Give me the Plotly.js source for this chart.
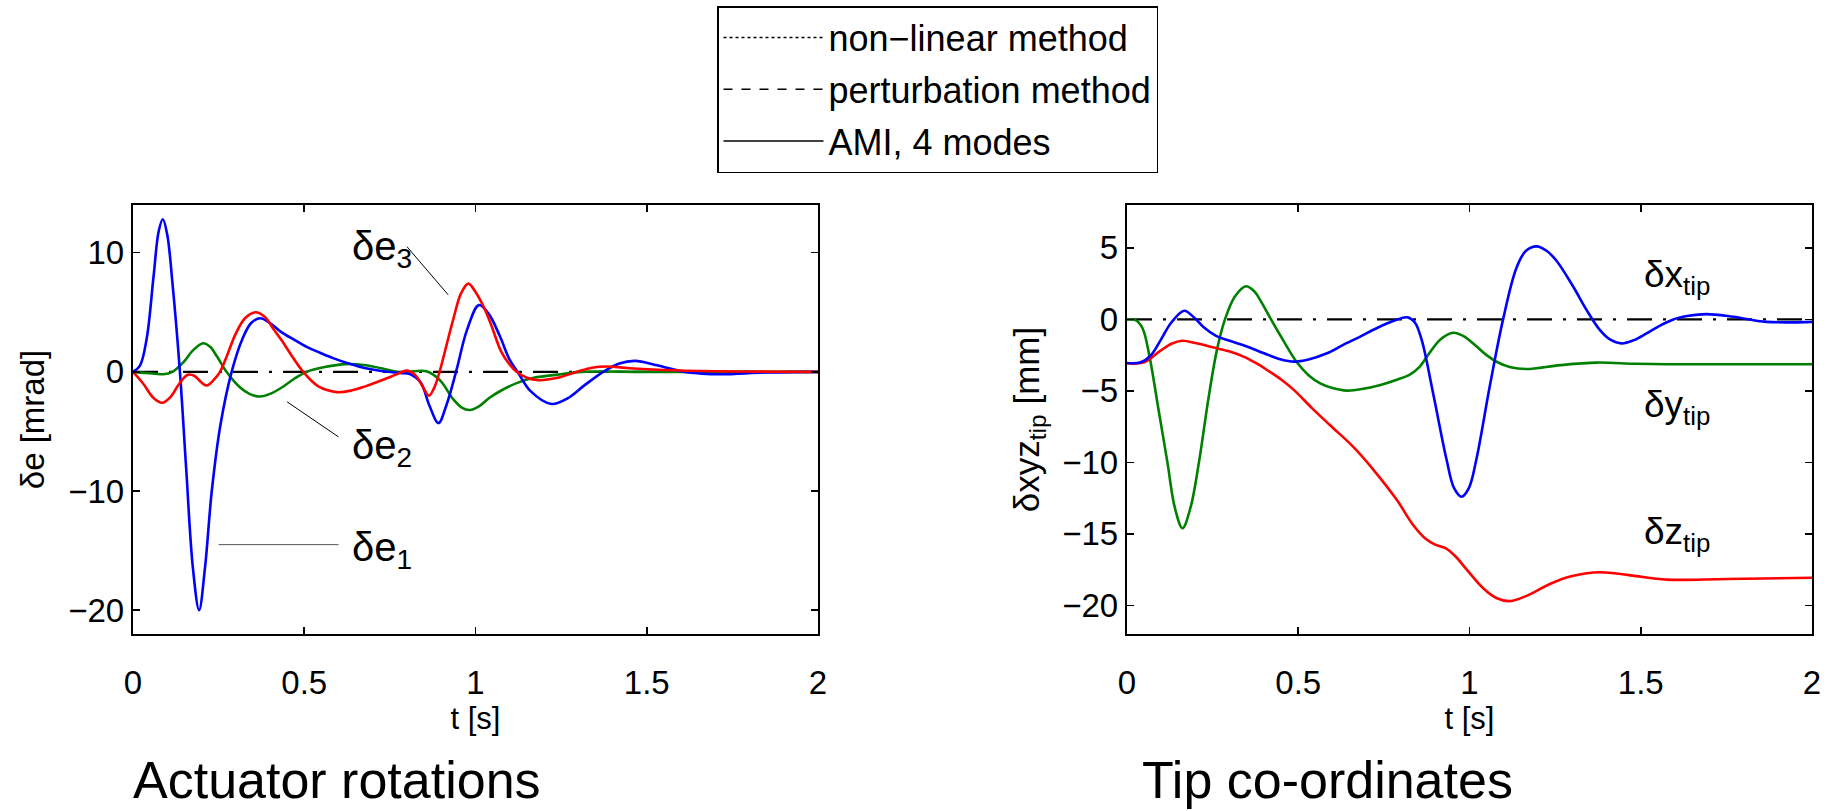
<!DOCTYPE html>
<html>
<head>
<meta charset="utf-8">
<script src="https://cdn.plot.ly/plotly-3.0.1.min.js"></script>
<style>html,body{margin:0;padding:0;background:#fff;}#chart{width:1832px;height:811px;}</style>
</head>
<body>
<div id="chart"></div>
<script>
// ---------- Data: Actuator rotations (left) ----------
const e1T = [0, 0.02, 0.04, 0.06, 0.075, 0.087, 0.1, 0.115, 0.137, 0.155, 0.175, 0.193, 0.21, 0.23, 0.255, 0.288, 0.32, 0.345, 0.371, 0.40, 0.43, 0.47, 0.51, 0.546, 0.584, 0.63, 0.68, 0.73, 0.78, 0.81, 0.84, 0.865, 0.892, 0.915, 0.945, 0.975, 1.01, 1.04, 1.071, 1.10, 1.125, 1.16, 1.222, 1.27, 1.315, 1.373, 1.42, 1.466, 1.53, 1.607, 1.66, 1.72, 1.85, 2.0];
const e1V = [0, 0.5, 2.8, 8.0, 11.8, 12.8, 11.5, 7.5, 0, -8, -16.5, -20, -16.5, -10, -4.5, 0, 2.8, 4.1, 4.5, 4.1, 3.4, 2.7, 2.05, 1.6, 1.15, 0.7, 0.3, 0.05, -0.1, -0.2, -0.9, -2.8, -4.3, -2.8, 0.2, 3.5, 5.6, 4.8, 3.0, 1.0, -0.1, -1.6, -2.7, -2.2, -1.2, 0, 0.7, 0.92, 0.55, 0, -0.15, -0.2, -0.05, 0];

const e2T = [0, 0.04, 0.088, 0.115, 0.147, 0.175, 0.205, 0.225, 0.245, 0.273, 0.312, 0.34, 0.371, 0.40, 0.438, 0.47, 0.507, 0.56, 0.62, 0.68, 0.747, 0.78, 0.82, 0.857, 0.896, 0.935, 0.96, 0.984, 1.01, 1.04, 1.07, 1.12, 1.17, 1.25, 1.31, 1.5, 2.0];
const e2V = [0, -0.1, -0.2, 0, 0.8, 1.8, 2.4, 2.1, 1.3, 0, -1.3, -1.85, -2.07, -1.85, -1.25, -0.6, 0, 0.4, 0.65, 0.55, 0.15, -0.05, 0.05, 0.05, -0.7, -2.3, -3.0, -3.2, -2.9, -2.2, -1.65, -0.95, -0.5, -0.2, 0, 0, 0];

const e3T = [0, 0.03, 0.06, 0.085, 0.11, 0.135, 0.16, 0.18, 0.2, 0.215, 0.235, 0.254, 0.275, 0.3, 0.327, 0.358, 0.385, 0.41, 0.435, 0.46, 0.497, 0.54, 0.595, 0.64, 0.68, 0.73, 0.775, 0.80, 0.825, 0.845, 0.864, 0.88, 0.895, 0.915, 0.935, 0.958, 0.979, 1.0, 1.023, 1.045, 1.075, 1.1, 1.12, 1.15, 1.183, 1.24, 1.296, 1.34, 1.384, 1.45, 1.55, 1.7, 2.0];
const e3V = [0, -1.0, -2.2, -2.6, -2.1, -1.0, -0.25, -0.35, -0.9, -1.15, -0.7, 0, 1.4, 3.2, 4.5, 5.0, 4.6, 3.6, 2.6, 1.5, 0, -1.2, -1.7, -1.55, -1.2, -0.67, -0.15, 0.1, -0.3, -1.2, -2.0, -1.3, 0, 2.2, 4.4, 6.6, 7.4, 6.7, 5.5, 4.0, 1.7, 0.6, 0, -0.5, -0.7, -0.5, 0, 0.35, 0.45, 0.3, 0.15, 0.05, 0];

// ---------- Data: Tip co-ordinates (right) ----------
const xTipT = [0, 0.04, 0.07, 0.097, 0.13, 0.167, 0.195, 0.224, 0.26, 0.3, 0.35, 0.409, 0.45, 0.487, 0.53, 0.584, 0.63, 0.681, 0.73, 0.779, 0.818, 0.84, 0.86, 0.894, 0.933, 0.955, 0.977, 0.998, 1.02, 1.059, 1.098, 1.137, 1.165, 1.196, 1.225, 1.254, 1.303, 1.342, 1.381, 1.41, 1.444, 1.48, 1.517, 1.555, 1.595, 1.64, 1.692, 1.77, 1.867, 2.0];
const xTipV = [-3.05, -3.0, -2.5, -1.5, -0.2, 0.6, 0.15, -0.55, -1.15, -1.5, -1.9, -2.45, -2.8, -2.95, -2.8, -2.37, -1.8, -1.2, -0.6, -0.1, 0.15, -0.2, -1.4, -5.2, -9.8, -11.8, -12.4, -11.8, -9.8, -4.7, 0, 3.6, 4.8, 5.11, 4.8, 4.1, 2.28, 0.65, -0.75, -1.4, -1.68, -1.45, -0.98, -0.45, 0, 0.25, 0.37, 0.18, -0.17, -0.17];

const yTipT = [0, 0.025, 0.045, 0.065, 0.092, 0.118, 0.14, 0.162, 0.185, 0.21, 0.238, 0.262, 0.286, 0.315, 0.347, 0.37, 0.389, 0.418, 0.457, 0.496, 0.53, 0.564, 0.6, 0.642, 0.69, 0.74, 0.79, 0.827, 0.855, 0.876, 0.915, 0.953, 0.985, 1.021, 1.05, 1.079, 1.12, 1.167, 1.265, 1.371, 1.48, 1.576, 2.0];
const yTipV = [0, -0.05, -0.6, -2.5, -6.3, -10, -13.2, -14.6, -13.2, -10, -5.5, -2.2, 0, 1.6, 2.32, 2.0, 1.35, 0.1, -1.5, -3.0, -3.9, -4.47, -4.8, -4.98, -4.85, -4.58, -4.2, -3.84, -3.3, -2.6, -1.4, -0.93, -1.2, -1.9, -2.5, -2.96, -3.35, -3.47, -3.2, -3.02, -3.1, -3.14, -3.14];

const zTipT = [0, 0.05, 0.097, 0.13, 0.161, 0.2, 0.25, 0.3, 0.34, 0.38, 0.409, 0.45, 0.487, 0.54, 0.593, 0.66, 0.719, 0.787, 0.836, 0.87, 0.9, 0.93, 0.96, 0.992, 1.04, 1.08, 1.118, 1.17, 1.235, 1.3, 1.381, 1.47, 1.576, 1.75, 2.0];
const zTipV = [-3.07, -3.0, -2.2, -1.7, -1.49, -1.65, -1.95, -2.25, -2.6, -3.1, -3.54, -4.2, -4.93, -6.2, -7.4, -8.9, -10.5, -12.6, -14.4, -15.3, -15.75, -16.0, -16.6, -17.5, -18.8, -19.5, -19.7, -19.3, -18.5, -17.95, -17.68, -17.9, -18.2, -18.15, -18.07];

// zero reference (dash-dot)
const refT = [0, 2];
const refV = [0, 0];

// legend entries
const legendNames = ['non\u2212linear method', 'perturbation method', 'AMI, 4 modes'];
const legendDash = ['dot', 'dash', 'solid'];

// tick labels
const xTickVals = [0, 0.5, 1, 1.5, 2];
const xTickText = ['0', '0.5', '1', '1.5', '2'];
const y1TickVals = [-20, -10, 0, 10];
const y1TickText = ['\u221220', '\u221210', '0', '10'];
const y2TickVals = [-20, -15, -10, -5, 0, 5];
const y2TickText = ['\u221220', '\u221215', '\u221210', '\u22125', '0', '5'];

// ---------- Styling ----------
const FONT = 'Liberation Sans, Arial, Helvetica, sans-serif';
const BLUE = '#0000ff', GREEN = '#008000', RED = '#ff0000';
const LW = 2.6;
const W = 1832, H = 811;

function curve(x, y, color, xa, ya) {
  return {type: 'scatter', mode: 'lines', x: x, y: y, xaxis: xa, yaxis: ya,
    line: {color: color, width: LW, shape: 'spline', smoothing: 1},
    showlegend: false, hoverinfo: 'skip'};
}
function refLine(xa, ya) {
  return {type: 'scatter', mode: 'lines', x: refT, y: refV, xaxis: xa, yaxis: ya,
    line: {color: 'black', width: 2.2, dash: '25px,11px,3px,11px'},
    showlegend: false, hoverinfo: 'skip'};
}

const traces = [];
legendNames.forEach((n, i) => {
  traces.push({type: 'scatter', mode: 'lines', x: [null], y: [null], name: n,
    legendgroup: 'g' + i, line: {color: 'black', width: 1.5, dash: legendDash[i]},
    xaxis: 'x', yaxis: 'y', hoverinfo: 'skip'});
});
traces.push(refLine('x', 'y'));
traces.push(curve(e2T, e2V, GREEN, 'x', 'y'));
traces.push(curve(e1T, e1V, BLUE, 'x', 'y'));
traces.push(curve(e3T, e3V, RED, 'x', 'y'));
traces.push(refLine('x2', 'y2'));
traces.push(curve(yTipT, yTipV, GREEN, 'x2', 'y2'));
traces.push(curve(zTipT, zTipV, RED, 'x2', 'y2'));
traces.push(curve(xTipT, xTipV, BLUE, 'x2', 'y2'));

const axisCommon = {
  showline: true, linecolor: 'black', linewidth: 2.2, mirror: 'ticks',
  ticks: 'inside', ticklen: 7, tickwidth: 1.6, tickcolor: 'black',
  showgrid: false, zeroline: false, fixedrange: true,
  tickfont: {family: FONT, size: 33, color: 'black'}
};
const xAxisExtra = {range: [0, 2], tickvals: xTickVals, ticktext: xTickText, ticklabelstandoff: 18,
  title: {text: 't [s]', font: {family: FONT, size: 31}, standoff: 4}};
const yDom = [(H - 634) / H, (H - 205) / H];

const layout = {
  width: W, height: H,
  margin: {l: 0, r: 0, t: 0, b: 0},
  paper_bgcolor: 'white', plot_bgcolor: 'white',
  font: {family: FONT, size: 31, color: 'black'},
  showlegend: true,
  legend: {x: 717 / W, y: 1 - 6 / H, xanchor: 'left', yanchor: 'top',
    bordercolor: 'black', borderwidth: 1.5, bgcolor: 'white',
    font: {family: FONT, size: 36, color: 'black'},
    itemwidth: 100, tracegroupgap: 2, traceorder: 'grouped'},
  xaxis: Object.assign({}, axisCommon, xAxisExtra, {domain: [133 / W, 818 / W], anchor: 'y'}),
  yaxis: Object.assign({}, axisCommon, {domain: yDom, range: [-22, 14], anchor: 'x',
    tickvals: y1TickVals, ticktext: y1TickText,
    title: {text: '\u03b4e [mrad]', font: {family: FONT, size: 33}, standoff: 14}}),
  xaxis2: Object.assign({}, axisCommon, xAxisExtra, {domain: [1127 / W, 1812 / W], anchor: 'y2'}),
  yaxis2: Object.assign({}, axisCommon, {domain: yDom, range: [-22, 8], anchor: 'x2',
    tickvals: y2TickVals, ticktext: y2TickText,
    title: {text: '\u03b4xyz<sub>tip</sub> [mm]', font: {family: FONT, size: 35}, standoff: 12}}),
  shapes: [
    {type: 'line', xref: 'x', yref: 'y', x0: 0.80, y0: 10.5, x1: 0.92, y1: 6.47, line: {color: 'black', width: 1}},
    {type: 'line', xref: 'x', yref: 'y', x0: 0.45, y0: -2.52, x1: 0.60, y1: -5.46, line: {color: 'black', width: 1}},
    {type: 'line', xref: 'x', yref: 'y', x0: 0.25, y0: -14.5, x1: 0.60, y1: -14.5, line: {color: '#555555', width: 1}}
  ],
  annotations: [
    {xref: 'x', yref: 'y', x: 0.634, y: 10.7, xanchor: 'left', yanchor: 'middle', yshift: -5, showarrow: false,
      text: '\u03b4e<sub>3</sub>', font: {family: FONT, size: 40}},
    {xref: 'x', yref: 'y', x: 0.634, y: -5.97, xanchor: 'left', yanchor: 'middle', yshift: -5, showarrow: false,
      text: '\u03b4e<sub>2</sub>', font: {family: FONT, size: 40}},
    {xref: 'x', yref: 'y', x: 0.634, y: -14.5, xanchor: 'left', yanchor: 'middle', yshift: -5, showarrow: false,
      text: '\u03b4e<sub>1</sub>', font: {family: FONT, size: 40}},
    {xref: 'x2', yref: 'y2', x: 1.504, y: 3.3, xanchor: 'left', yanchor: 'middle', yshift: -5, showarrow: false,
      text: '\u03b4x<sub>tip</sub>', font: {family: FONT, size: 37}},
    {xref: 'x2', yref: 'y2', x: 1.504, y: -5.77, xanchor: 'left', yanchor: 'middle', yshift: -5, showarrow: false,
      text: '\u03b4y<sub>tip</sub>', font: {family: FONT, size: 37}},
    {xref: 'x2', yref: 'y2', x: 1.504, y: -14.63, xanchor: 'left', yanchor: 'middle', yshift: -5, showarrow: false,
      text: '\u03b4z<sub>tip</sub>', font: {family: FONT, size: 37}},
    {xref: 'paper', yref: 'paper', x: 131 / W, y: (H - 780) / H, xanchor: 'left', yanchor: 'middle', showarrow: false,
      text: 'Actuator rotations', font: {family: FONT, size: 52}},
    {xref: 'paper', yref: 'paper', x: 1140 / W, y: (H - 780) / H, xanchor: 'left', yanchor: 'middle', showarrow: false,
      text: 'Tip co-ordinates', font: {family: FONT, size: 52}}
  ]
};

Plotly.newPlot('chart', traces, layout, {staticPlot: true, displayModeBar: false});
</script>
</body>
</html>
